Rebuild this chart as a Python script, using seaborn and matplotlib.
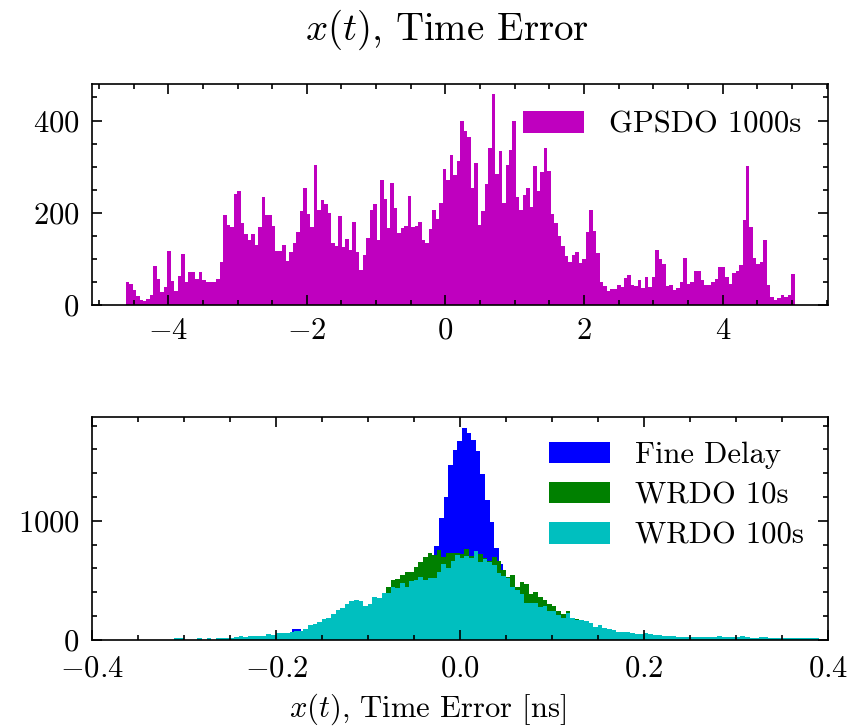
import numpy as np
import pandas as pd
import matplotlib
matplotlib.use("Agg")
import matplotlib.pyplot as plt
from matplotlib.ticker import MultipleLocator
import seaborn as sns

# ---------------- data ----------------
gpsdo_label = "GPSDO 1000s"
gpsdo_range = (-4.615, 5.04)
gpsdo_counts = [
    50, 46, 33, 20, 11, 9, 14, 22, 85, 57, 29, 39, 117, 52, 31, 62, 111, 49, 72, 72,
    57, 72, 54, 49, 51, 51, 57, 93, 196, 174, 170, 241, 248, 178, 154, 141, 154, 130, 170, 235,
    196, 196, 172, 117, 117, 130, 96, 115, 135, 159, 204, 254, 198, 170, 304, 207, 228, 220, 200, 135,
    127, 193,
    126, 143, 120, 180, 115, 76, 109, 146, 207, 220, 141, 272, 230, 168, 265, 211, 157, 167, 172, 237,
    170, 172, 180, 141, 135, 165, 207, 187, 222, 296, 272, 326, 283, 313, 400, 378, 365, 254, 307, 174,
    204, 263, 341, 457, 285, 335, 222, 304, 337, 398, 235, 207, 239, 254, 213, 302, 248, 289, 341, 291,
    198, 178, 150, 128, 107, 93, 109, 115, 91,
    100, 159, 207, 161, 113, 50, 41, 30, 35, 35, 43, 39, 59, 65, 43, 41, 54, 37, 61, 39,
    61, 120, 100, 89, 41, 43, 33, 37, 50, 102, 46, 50, 74, 74, 54, 43, 43, 50, 57, 83,
    83, 61, 46, 70, 74, 87, 185, 302, 170, 102, 89, 93, 141, 43, 17, 11, 15, 22, 17, 22, 67,
]

series_labels = ["Fine Delay", "WRDO 10s", "WRDO 100s"]
fine_delay_range = (-0.398, 0.402)
wrdo_range = (-0.4005, 0.3995)

fine_delay_counts = (
    [0] * 29 +
    [8, 8, 17, 17, 17, 25, 25, 25, 30, 35, 40,
     45, 50, 55, 92, 92, 70, 75, 80, 85, 90,
     95, 100, 105, 110, 115, 120, 125, 130, 135, 140,
     145, 150, 160, 170, 185, 200, 220, 245, 275, 310,
     350, 400, 470, 580, 790, 1025, 1202, 1471, 1597, 1672,
     1782, 1739, 1681, 1588, 1395, 1176, 992, 773, 638, 500,
     420, 380, 330, 280, 240, 210, 190, 170, 150, 140,
     130, 120, 110, 100, 95, 90, 85, 80, 75, 70,
     65, 60, 55, 50, 45, 40, 38, 34, 30, 28,
     25, 25, 20, 17, 17, 17, 17, 12, 12, 12,
     12, 12, 12, 12, 12, 12, 8, 8, 8, 8,
     8, 8, 8, 8, 8, 8, 8, 8, 8, 8,
     8, 8, 8, 8, 8, 8, 8, 0, 0, 0]
)

wrdo10_counts = (
    [0] * 27 +
    [8, 8, 8,
     17, 17, 20, 20, 25, 25, 30, 30, 40, 40,
     50, 50, 50, 60, 70, 70, 85, 110, 120, 140,
     160, 170, 200, 230, 250, 280, 300, 310, 300, 270,
     290, 330, 340, 380, 445, 504, 512, 546, 571, 571,
     613, 655, 697, 731, 714, 756, 697, 731, 731, 731,
     725, 764, 706, 740, 722, 689, 660, 697, 664, 588,
     529, 546, 445, 487, 470, 386, 403, 361, 336, 302,
     286, 244, 218, 244, 185, 174, 160, 150, 135, 100,
     110, 90, 85, 75, 60, 60, 55, 50, 45, 42,
     50, 42, 34, 34, 25, 25, 25, 17, 17, 17,
     17, 17, 17, 17, 17, 17, 25, 17, 17, 17,
     17, 17, 17, 8, 8, 8, 8, 8, 8, 8,
     8, 8, 8, 8, 8, 8, 8, 8, 0, 0]
)

wrdo100_counts = (
    [0] * 18 +
    [17, 17,
     0, 0, 0, 17, 0, 17, 0, 17, 17, 17,
     20, 25, 34, 25, 34, 34, 34, 34, 50, 45,
     59, 59, 59, 70, 78, 78, 92, 126, 134, 151,
     176, 185, 218, 252, 269, 302, 328, 336, 328, 286,
     302, 361, 353, 395, 395, 445, 437, 479, 445, 496,
     504, 529, 504, 521, 521, 571, 638, 605, 664, 714,
     690, 706, 689, 748, 655, 680, 655, 630, 563, 538,
     521, 445, 420, 386, 311, 311, 311, 277, 286, 244,
     244, 210, 185, 227, 185, 168, 168, 160, 143, 109,
     126, 101, 92, 84, 67, 67, 67, 59, 50, 50,
     59, 50, 42, 42, 34, 34, 34, 25, 25, 25,
     25, 25, 25, 25, 25, 25, 34, 25, 25, 25,
     25, 34, 25, 17, 17, 25, 25, 17, 17, 17,
     17, 17, 17, 17, 17, 17, 17, 17, 0, 0]
)

# ---------------- style ----------------
plt.rcParams.update({
    "font.family": "cmr10",
    "mathtext.fontset": "cm",
    "axes.formatter.use_mathtext": True,
    "font.size": 22,
    "axes.linewidth": 1.2,
    "xtick.direction": "in", "ytick.direction": "in",
    "xtick.top": True, "ytick.right": True,
    "xtick.major.size": 7.2, "ytick.major.size": 7.2,
    "xtick.minor.size": 3.6, "ytick.minor.size": 3.6,
    "xtick.major.width": 1.2, "ytick.major.width": 1.2,
    "xtick.minor.width": 1.2, "ytick.minor.width": 1.2,
    "xtick.minor.visible": True, "ytick.minor.visible": True,
    "xtick.major.pad": 9, "ytick.major.pad": 9,
    "legend.frameon": False,
})

fig = plt.figure(figsize=(8.53, 7.28), dpi=100)
ax1 = fig.add_axes([0.108, 0.581, 0.863, 0.304])
ax2 = fig.add_axes([0.108, 0.121, 0.863, 0.306])


def draw_hist(ax, counts, rng, color, label):
    edges = np.linspace(rng[0], rng[1], len(counts) + 1)
    centers = 0.5 * (edges[:-1] + edges[1:])
    df = pd.DataFrame({"value": centers, "count": np.asarray(counts, dtype=float)})
    sns.histplot(data=df, x="value", weights="count", bins=[float(e) for e in edges],
                 color=color, alpha=1, linewidth=0, label=label, ax=ax)


draw_hist(ax1, gpsdo_counts, gpsdo_range, "m", gpsdo_label)
ax1.set_ylabel("")
ax1.set_xlabel("")
ax1.legend(loc="upper right")

draw_hist(ax2, fine_delay_counts, fine_delay_range, "b", series_labels[0])
draw_hist(ax2, wrdo10_counts, wrdo_range, "g", series_labels[1])
draw_hist(ax2, wrdo100_counts, wrdo_range, "c", series_labels[2])
ax2.set_xlim(-0.4, 0.4)
ax2.xaxis.set_major_locator(MultipleLocator(0.2))
ax2.xaxis.set_minor_locator(MultipleLocator(0.05))
ax2.tick_params(axis="x", which="major", pad=11)
ax2.set_ylabel("")
ax2.set_xlabel(r"$x(t)$, Time Error [ns]")
ax2.xaxis.set_label_coords(0.455, -0.232)
ax2.legend(loc="upper right", labelspacing=0.42, borderaxespad=0.4)

fig.text(0.524, 0.959, r"$x(t)$, Time Error", ha="center", va="center", fontsize=28)

fig.savefig("out.png", dpi=100)
